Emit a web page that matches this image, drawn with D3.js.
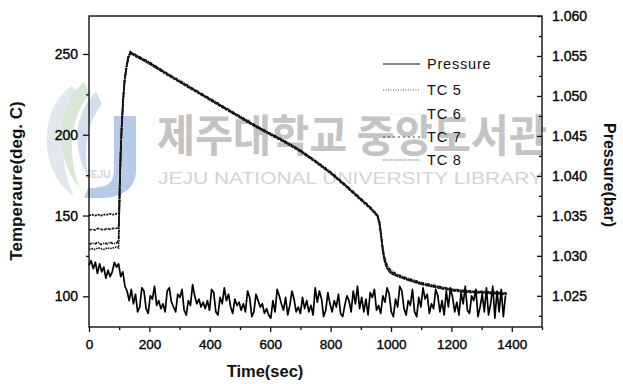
<!DOCTYPE html>
<html><head><meta charset="utf-8">
<script src="https://cdn.jsdelivr.net/npm/d3@7"></script>
<style>body{margin:0;background:#fff}svg{display:block}</style>
</head><body>
<svg id="c" width="623" height="384"></svg>
<script>
// ---------- data ----------
const xTicks = [0, 200, 400, 600, 800, 1000, 1200, 1400];
const xMinorTicks = [100, 300, 500, 700, 900, 1100, 1300, 1500];
const yLeftTicks = [100, 150, 200, 250];
const yLeftMinorTicks = [125, 175, 225];
const yRightTicks = [1.025, 1.030, 1.035, 1.040, 1.045, 1.050, 1.055, 1.060];
const yRightMinorTicks = [1.0225, 1.0275, 1.0325, 1.0375, 1.0425, 1.0475, 1.0525, 1.0575];
const seriesNames = ["Pressure", "TC 5", "TC 6", "TC 7", "TC 8"];

const timeTC = [0,10,20,30,40,50,60,70,80,90,98,
  100,102,105,108,113,118,124,130,137,
  150,200,250,300,350,400,450,500,550,600,650,700,750,800,850,900,
  930,955,962,967,972,977,983,990,
  1000,1020,1050,
  1100,1150,1200,1250,1300,1350,
  1383];
const tc5 = [150,150.5,150,150.5,150,150.5,150.5,151,150.5,151,151.5,
  153,170,190,204,222,234,242,248,251,
  249.5,244.5,238.5,233,227.5,222,216.5,211,205.5,200.5,195.5,190,183.5,176.5,168.5,160,
  155,150,145,138,130,124,120,117,
  115,113,111,
  108,106,104,103,102.5,102,
  101.5];
const tc6 = [141,141.5,141,142,141.5,141,142,141.5,142,142,142.5,
  152,169.5,189.5,203.5,221.5,233.5,241.5,247.5,250.5,
  249,244,238,232.5,227,221.5,216,210.5,205,200,195,189.5,183,176,168,159.5,
  154.5,149.5,144,137,129,123,119,116,
  114,112.5,110.5,
  107.5,105.5,103.5,102.5,102,101.5,
  101];
const tc7 = [132,133,132.5,133.5,132,133,132.5,133.5,132.5,133,134,
  151,170.5,190.5,204.5,222.5,234.5,242.5,248.5,251.5,
  250,245,239,233.5,228,222.5,217,211.5,206,201,196,190.5,184,177,169,160.5,
  155.5,150.5,146,139,131,125.5,121.5,118,
  116,113.5,111.5,
  108.5,106.5,104.5,103.5,103,102.5,
  102];
const tc8 = [129,129.5,129,130,129.5,129,130,129.5,130,130.5,130,
  150,169,189,203,221,233,241,247,250.5,
  249,244,238.5,233,227.5,222,216.5,211,205.5,200.5,195.5,190,183.5,176.5,168.5,160,
  155,150,145.5,138.5,130.5,123.5,119.5,116.5,
  114.5,112.5,110.5,
  107.5,105.5,104,103,102.5,102,
  101.5];

// pressure sampled every 7 s (bar)
const pressureStep = 7;
const pressure = [
 1.0288,1.0294,1.0284,1.0292,1.0278,1.0290,1.0280,1.0286,1.0272,1.0282,1.0274,1.0280,1.0292,1.0286,1.0290,
 1.0274,1.0280,1.0262,1.0256,1.0244,
 1.0258,1.0240,1.0252,1.0230,1.0236,1.0260,1.0256,1.0234,1.0228,1.0250,
 1.0246,1.0262,1.0238,1.0244,1.0234,1.0240,1.0230,1.0256,1.0260,1.0242,
 1.0236,1.0230,1.0252,1.0248,1.0258,1.0232,1.0226,1.0244,1.0238,1.0264,
 1.0250,1.0240,1.0246,1.0236,1.0242,1.0234,1.0244,1.0232,1.0258,1.0254,
 1.0230,1.0226,1.0248,1.0240,1.0260,1.0244,1.0252,1.0236,1.0228,1.0246,
 1.0238,1.0242,1.0232,1.0240,1.0230,1.0256,1.0248,1.0224,1.0230,1.0252,
 1.0244,1.0236,1.0240,1.0228,1.0234,1.0226,1.0222,1.0244,1.0230,1.0258,
 1.0250,1.0240,1.0232,1.0248,1.0226,1.0238,1.0256,1.0246,1.0230,1.0236,
 1.0228,1.0248,1.0234,1.0244,1.0230,1.0238,1.0226,1.0260,1.0242,1.0256,
 1.0246,1.0224,1.0232,1.0254,1.0240,1.0230,1.0244,1.0236,1.0252,1.0228,
 1.0224,1.0238,1.0250,1.0244,1.0230,1.0256,1.0240,1.0262,1.0234,1.0248,
 1.0230,1.0246,1.0226,1.0254,1.0248,1.0258,1.0232,1.0238,1.0228,1.0250,
 1.0242,1.0260,1.0252,1.0230,1.0224,1.0246,1.0236,1.0262,1.0256,1.0234,
 1.0226,1.0244,1.0238,1.0258,1.0230,1.0224,1.0248,1.0236,1.0260,1.0246,
 1.0252,1.0228,1.0240,1.0234,1.0258,1.0250,1.0230,1.0244,1.0226,1.0256,
 1.0236,1.0260,1.0248,1.0230,1.0242,1.0226,1.0254,1.0240,1.0262,1.0232,
 1.0228,1.0250,1.0244,1.0258,1.0224,1.0236,1.0252,1.0230,1.0260,1.0226,
 1.0240,1.0262,1.0222,1.0256,1.0230,1.0258,1.0224,1.0250
];

// ---------- chart ----------
const svg = d3.select("#c");
const font = "'Liberation Sans', Arial, Helvetica, sans-serif";
const x = d3.scaleLinear().domain([0, 1500]).range([89, 542]);
const yL = d3.scaleLinear().domain([81, 273.5]).range([327, 16]);
const yR = d3.scaleLinear().domain([1.0211, 1.0600]).range([327, 16]);

// watermark
const wm = svg.append("g").attr("class", "watermark");
wm.append("path").attr("d", "M72,86 C38,108 38,172 74,196 C60,170 58,120 80,96 Z")
  .attr("fill", "#e3e8ef");
wm.append("path").attr("d", "M84,82 C56,104 54,160 80,188 C68,160 68,118 90,94 Z")
  .attr("fill", "#d8e8d4");
wm.append("path").attr("d", "M96,92 C74,112 72,150 88,176 C84,150 86,124 102,104 Z")
  .attr("fill", "#d3deec");
wm.append("path").attr("d", "M114,116 L136,116 L136,170 C136,190 120,198 100,198 L84,198 L88,188 C110,188 114,182 114,168 Z")
  .attr("fill", "#b8cbe6");
wm.append("text").attr("x", 98).attr("y", 178).attr("text-anchor", "middle")
  .style("font-family", font).style("font-size", "10px").style("font-weight", "bold")
  .attr("fill", "#d2d8e0").text("JEJU");
wm.append("text").attr("x", 157).attr("y", 152)
  .attr("textLength", 390).attr("lengthAdjust", "spacingAndGlyphs")
  .style("font-family", "'Noto Sans CJK KR', sans-serif").style("font-size", "44px").style("font-weight", "bold")
  .attr("fill", "#c4c4c4").text("제주대학교 중앙도서관");
wm.append("text").attr("x", 158).attr("y", 184)
  .attr("textLength", 385).attr("lengthAdjust", "spacingAndGlyphs")
  .style("font-family", font).style("font-size", "16px")
  .attr("fill", "#d4d4d4").text("JEJU NATIONAL UNIVERSITY LIBRARY");

// frame
svg.append("rect").attr("x", 89).attr("y", 16).attr("width", 453).attr("height", 311)
  .attr("fill", "none").attr("stroke", "#111").attr("stroke-width", 1.4);

function styleAxis(g, size) {
  g.select(".domain").remove();
  g.selectAll("line").attr("stroke", "#111").attr("stroke-width", 1.3);
  g.selectAll("text").style("font-family", font).style("font-size", size)
    .attr("fill", "#000").attr("stroke", "#000").attr("stroke-width", 0.35);
}
// bottom
svg.append("g").attr("transform", "translate(0,327)")
  .call(d3.axisBottom(x).tickValues(xTicks).tickSize(5).tickPadding(7).tickFormat(d3.format("d")))
  .call(g => styleAxis(g, "13.5px"));
svg.append("g").attr("transform", "translate(0,327)")
  .call(d3.axisBottom(x).tickValues(xMinorTicks).tickSize(3).tickFormat(""))
  .call(g => styleAxis(g, "13px"));
// left
svg.append("g").attr("transform", "translate(89,0)")
  .call(d3.axisLeft(yL).tickValues(yLeftTicks).tickSize(6).tickPadding(5).tickFormat(d3.format("d")))
  .call(g => styleAxis(g, "14px"));
svg.append("g").attr("transform", "translate(89,0)")
  .call(d3.axisLeft(yL).tickValues(yLeftMinorTicks).tickSize(3).tickFormat(""))
  .call(g => styleAxis(g, "14px"));
// right
svg.append("g").attr("transform", "translate(542,0)")
  .call(d3.axisRight(yR).tickValues(yRightTicks).tickSize(-5).tickPadding(10).tickFormat(d3.format(".3f")))
  .call(g => styleAxis(g, "14px"));
svg.append("g").attr("transform", "translate(542,0)")
  .call(d3.axisRight(yR).tickValues(yRightMinorTicks).tickSize(-3).tickFormat(""))
  .call(g => styleAxis(g, "14px"));

// titles
svg.append("text").attr("transform", "translate(22,181) rotate(-90)").attr("text-anchor", "middle")
  .style("font-family", font).style("font-size", "17px").style("font-weight", "bold")
  .attr("fill", "#111").text("Temperaure(deg. C)");
svg.append("text").attr("transform", "translate(604,175) rotate(90)").attr("text-anchor", "middle")
  .style("font-family", font).style("font-size", "16px").style("font-weight", "bold")
  .attr("fill", "#111").text("Pressure(bar)");
svg.append("text").attr("x", 265).attr("y", 377).attr("text-anchor", "middle")
  .style("font-family", font).style("font-size", "16.5px").style("font-weight", "bold")
  .attr("fill", "#111").text("Time(sec)");

// lines
const tcSeries = [
  {name: "TC 5", values: tc5, color: "#000", dash: "2,1"},
  {name: "TC 6", values: tc6, color: "#222", dash: "3,1"},
  {name: "TC 7", values: tc7, color: "#111", dash: "3,1,1,1"},
  {name: "TC 8", values: tc8, color: "#111", dash: "1.5,1"}
];
const lineT = d3.line().x((d, i) => x(timeTC[i])).y(d => yL(d));
tcSeries.forEach(s => {
  svg.append("path").datum(s.values).attr("d", lineT)
    .attr("fill", "none").attr("stroke", s.color).attr("stroke-width", 1.7)
    .attr("stroke-dasharray", s.dash);
});
const lineP = d3.line().x((d, i) => x(i * pressureStep)).y(d => yR(d));
svg.append("path").datum(pressure).attr("d", lineP)
  .attr("fill", "none").attr("stroke", "#000").attr("stroke-width", 1.7)
  .attr("stroke-linejoin", "round");

// legend
const legendStyles = [
  {color: "#111", dash: null},
  {color: "#555", dash: "1,1.5"},
  {color: "#e4e4e4", dash: "2,1.5"},
  {color: "#444", dash: "2,3"},
  {color: "#777", dash: "1.5,1"}
];
const legY = [64, 90, 114, 137, 160];
const leg = svg.append("g");
seriesNames.forEach((n, i) => {
  leg.append("line").attr("x1", 383).attr("x2", 420).attr("y1", legY[i]).attr("y2", legY[i])
    .attr("stroke", legendStyles[i].color).attr("stroke-width", 1)
    .attr("stroke-dasharray", legendStyles[i].dash);
  leg.append("text").attr("x", 427).attr("y", legY[i]).attr("dy", "0.35em")
    .style("font-family", font).style("font-size", "14.5px").style("letter-spacing", "0.8px")
    .attr("fill", "#111").text(n);
});
</script>
</body></html>
